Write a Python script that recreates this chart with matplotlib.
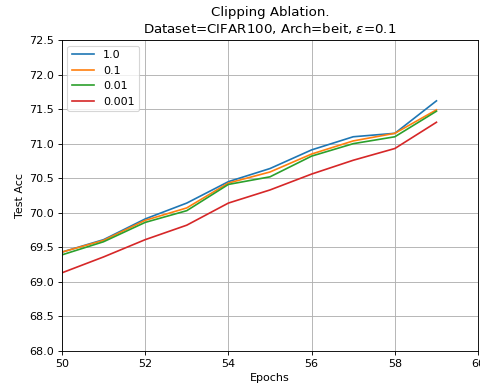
import matplotlib
matplotlib.use("Agg")
import matplotlib.pyplot as plt

epochs = [50, 51, 52, 53, 54, 55, 56, 57, 58, 59]
clip_labels = ["1.0", "0.1", "0.01", "0.001"]
acc_1_0 = [69.43, 69.61, 69.91, 70.14, 70.45, 70.64, 70.91, 71.10, 71.15, 71.62]
acc_0_1 = [69.43, 69.60, 69.89, 70.07, 70.43, 70.59, 70.85, 71.04, 71.15, 71.49]
acc_0_01 = [69.39, 69.58, 69.86, 70.03, 70.41, 70.52, 70.82, 71.00, 71.10, 71.47]
acc_0_001 = [69.13, 69.36, 69.61, 69.82, 70.14, 70.33, 70.56, 70.76, 70.93, 71.31]
series = [acc_1_0, acc_0_1, acc_0_01, acc_0_001]

# default sizes, rendered at 80 dpi -> 480x389
fig = plt.figure(figsize=(6.0, 4.8625), dpi=80)
ax = fig.add_axes([0.129, 0.098, 0.867, 0.799])

for label, vals in zip(clip_labels, series):
    ax.plot(epochs, vals, label=label)

ax.set_xlim(50, 60)
ax.set_ylim(68.0, 72.5)
ax.set_xticks([50, 52, 54, 56, 58, 60])
ax.set_yticks([68.0, 68.5, 69.0, 69.5, 70.0, 70.5, 71.0, 71.5, 72.0, 72.5])
ax.grid(True)
ax.set_xlabel("Epochs")
ax.set_ylabel("Test Acc")
ax.set_title("Clipping Ablation.\nDataset=CIFAR100, Arch=beit, $\\epsilon$=0.1")
ax.legend(loc="upper left")

fig.savefig("out.png", dpi=80)
